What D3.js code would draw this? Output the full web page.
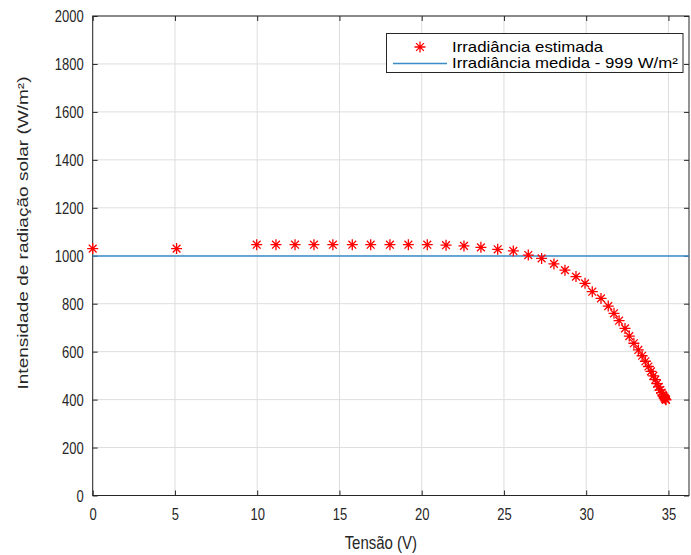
<!DOCTYPE html>
<html>
<head>
<meta charset="utf-8">
<script src="https://cdn.jsdelivr.net/npm/d3@7"></script>
<style>
  html, body { margin: 0; padding: 0; background: #ffffff; }
  svg { display: block; font-family: "Liberation Sans", Arial, sans-serif; }
</style>
</head>
<body>
<svg id="chart" width="691" height="555"></svg>
<script>
// Estimated irradiance for each voltage point of the I-V sweep
const voltage = [0, 5.1, 9.97, 11.14, 12.3, 13.45, 14.6, 15.78, 16.9, 18.07, 19.19,
  20.34, 21.48, 22.57, 23.6, 24.62, 25.57, 26.48, 27.29, 28.04, 28.71, 29.38, 29.93,
  30.37, 30.9, 31.34, 31.69, 32.0, 32.36, 32.62, 32.9, 33.17, 33.4, 33.6, 33.78, 33.94,
  34.08, 34.2, 34.31, 34.41, 34.5, 34.58, 34.65, 34.71, 34.76, 34.8, 34.83, 34.85];
const irradiance = [1030, 1030, 1046, 1046, 1046, 1046, 1046, 1046, 1046, 1046, 1046,
  1046, 1044, 1041, 1035, 1027, 1020, 1003, 989, 966, 940, 913, 885,
  850, 822, 790, 760, 729, 697, 665, 635, 607, 583, 560, 538, 518,
  499, 483, 467, 453, 440, 429, 420, 413, 408, 404, 401, 399];
const measured = 999;

const xTicks = [0, 5, 10, 15, 20, 25, 30, 35];
const yTicks = [0, 200, 400, 600, 800, 1000, 1200, 1400, 1600, 1800, 2000];
const legendLabels = ["Irradiância estimada", "Irradiância medida - 999 W/m²"];

const svg = d3.select("#chart");
const plotL = 92.7, plotR = 689, plotT = 16, plotB = 495.5;

const x = d3.scaleLinear().domain([0, 36.25]).range([plotL, plotR]);
const y = d3.scaleLinear().domain([0, 2000]).range([plotB, plotT]);

const axisColor = "#262626";
const gridColor = "#dedede";
const tall = 1.2; // vertical stretch of the lettering

// grid
const grid = svg.append("g");
grid.selectAll("line.gx").data(xTicks).join("line")
  .attr("class", "gx")
  .attr("x1", d => x(d)).attr("x2", d => x(d))
  .attr("y1", plotT).attr("y2", plotB)
  .attr("stroke", gridColor).attr("stroke-width", 1);
grid.selectAll("line.gy").data(yTicks).join("line")
  .attr("class", "gy")
  .attr("x1", plotL).attr("x2", plotR)
  .attr("y1", d => y(d)).attr("y2", d => y(d))
  .attr("stroke", gridColor).attr("stroke-width", 1);

// axes with inward ticks on all four sides
const tickLen = 5;
const xAxisB = d3.axisBottom(x).tickValues(xTicks).tickSize(-tickLen).tickFormat(d3.format("d"));
const xAxisT = d3.axisTop(x).tickValues(xTicks).tickSize(-tickLen).tickFormat("");
const yAxisL = d3.axisLeft(y).tickValues(yTicks).tickSize(-tickLen).tickFormat(d3.format("d"));
const yAxisR = d3.axisRight(y).tickValues(yTicks).tickSize(-tickLen).tickFormat("");

function styleAxis(g) {
  g.select(".domain").remove();
  g.selectAll(".tick line").attr("stroke", axisColor);
  g.selectAll(".tick text").attr("fill", axisColor).style("font-size", "13px");
}
svg.append("g").attr("transform", `translate(0,${plotB})`).call(xAxisB).call(styleAxis)
  .selectAll(".tick text")
  .attr("y", 0).attr("dy", null)
  .attr("transform", `translate(0,24) scale(1,${tall})`);
svg.append("g").attr("transform", `translate(0,${plotT})`).call(xAxisT).call(styleAxis);
svg.append("g").attr("transform", `translate(${plotL},0)`).call(yAxisL).call(styleAxis)
  .selectAll(".tick text")
  .attr("x", 0).attr("y", 0).attr("dy", null)
  .attr("transform", `translate(-9,5.6) scale(1,${tall})`);
svg.append("g").attr("transform", `translate(${plotR},0)`).call(yAxisR).call(styleAxis);

// frame
svg.append("rect")
  .attr("x", plotL).attr("y", plotT)
  .attr("width", plotR - plotL).attr("height", plotB - plotT)
  .attr("fill", "none").attr("stroke", axisColor).attr("stroke-width", 1);

// measured irradiance reference line
svg.append("line")
  .attr("x1", plotL).attr("x2", plotR)
  .attr("y1", y(measured)).attr("y2", y(measured))
  .attr("stroke", "#3a8cc8").attr("stroke-width", 1.6);

// asterisk marker (plus + cross)
function asterisk(r) {
  const d = r * Math.SQRT1_2;
  return `M${-r},0L${r},0M0,${-r}L0,${r}M${-d},${-d}L${d},${d}M${-d},${d}L${d},${-d}`;
}
const pts = voltage.map((v, i) => ({ v, g: irradiance[i] }));
svg.append("g").selectAll("path").data(pts).join("path")
  .attr("transform", d => `translate(${x(d.v)},${y(d.g)})`)
  .attr("d", asterisk(5.5))
  .attr("fill", "none").attr("stroke", "#ff0000").attr("stroke-width", 1.3);

// axis labels
svg.append("text")
  .attr("transform", `translate(${(plotL + plotR) / 2 - 10},549) scale(1,${tall})`)
  .attr("text-anchor", "middle").attr("fill", axisColor)
  .style("font-size", "15px").text("Tensão (V)");

svg.append("text")
  .attr("transform", `translate(28,233) rotate(-90) scale(1.27,1)`)
  .attr("text-anchor", "middle").attr("fill", axisColor)
  .style("font-size", "15px")
  .text("Intensidade de radiação solar (W/m²)");

// legend
const lg = svg.append("g");
lg.append("rect")
  .attr("x", 386.5).attr("y", 33.5).attr("width", 296.5).attr("height", 39)
  .attr("fill", "#ffffff").attr("stroke", axisColor).attr("stroke-width", 1);
lg.append("path")
  .attr("transform", "translate(420,47)")
  .attr("d", asterisk(5.5))
  .attr("fill", "none").attr("stroke", "#ff0000").attr("stroke-width", 1.3);
lg.append("line")
  .attr("x1", 393).attr("x2", 447).attr("y1", 63.5).attr("y2", 63.5)
  .attr("stroke", "#3a8cc8").attr("stroke-width", 1.6);
lg.selectAll("text").data(legendLabels).join("text")
  .attr("transform", (d, i) => `translate(452,${47 + i * 16.5}) scale(1.2,1)`)
  .attr("dy", "0.35em").attr("fill", "#000000")
  .style("font-size", "14px")
  .text(d => d);
</script>
</body>
</html>
